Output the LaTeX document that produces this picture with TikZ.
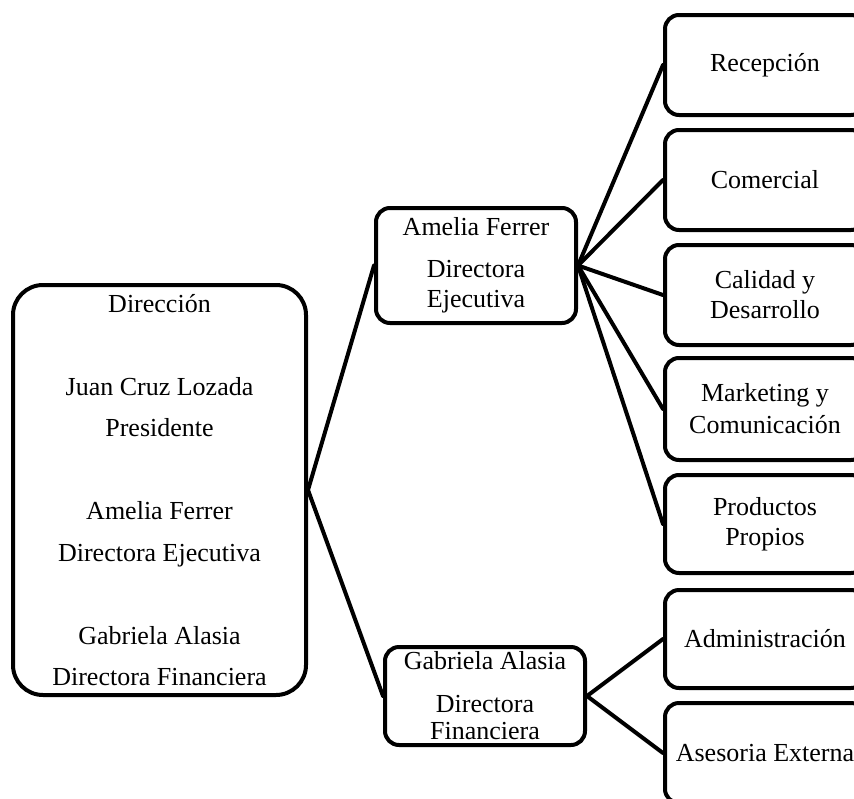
\documentclass[tikz,border=0pt]{standalone}
\usepackage{fontspec}
\setmainfont{Liberation Serif}
\begin{document}
\begin{tikzpicture}[x=1pt,y=-1pt,
  box/.style={draw=black, line width=4pt, fill=white, inner sep=0pt, align=center,
    rounded corners=14pt, font=\fontsize{26}{30}\selectfont},
  conn/.style={draw=black, line width=4pt, line cap=round}]
\clip (0,0) rectangle (854,798);
\fill[white] (0,0) rectangle (854,798);

% left box
\node[box, rounded corners=30pt, minimum width=293pt, minimum height=410pt,
  font=\fontsize{26}{41.5}\selectfont] (dir) at (159.5,490)
  {Dirección\\[41.5pt]Juan Cruz Lozada\\Presidente\\[41.5pt]Amelia Ferrer\\Directora Ejecutiva\\[41.5pt]Gabriela Alasia\\Directora Financiera};

% middle boxes
\node[box, minimum width=200pt, minimum height=115pt] (ame) at (476,265.5)
  {Amelia Ferrer\\[12pt]Directora\\Ejecutiva};
\node[box, minimum width=200pt, minimum height=98pt,
  font=\fontsize{26}{27}\selectfont] (gab) at (485,696)
  {Gabriela Alasia\\[16pt]Directora\\Financiera};

% right boxes
\node[box, minimum width=200pt, minimum height=100pt] (rec) at (765,65) {Recepción};
\node[box, minimum width=200pt, minimum height=100pt] (com) at (765,180) {Comercial};
\node[box, minimum width=200pt, minimum height=100pt] (cal) at (765,295) {Calidad y\\Desarrollo};
\node[box, minimum width=200pt, minimum height=102pt, font=\fontsize{26}{32}\selectfont] (mkt) at (765,409) {Marketing y\\Comunicación};
\node[box, minimum width=200pt, minimum height=98pt] (pro) at (765,524) {Productos\\Propios};
\node[box, minimum width=200pt, minimum height=98pt] (adm) at (765,639) {Administración};
\node[box, minimum width=200pt, minimum height=100pt] (ase) at (765,753) {Asesoria Externa};

% connectors
\draw[conn] (dir.east) -- (ame.west);
\draw[conn] (dir.east) -- (gab.west);
\foreach \t in {rec,com,cal,mkt,pro}
  \draw[conn] (ame.east) -- (\t.west);
\foreach \t in {adm,ase}
  \draw[conn] (gab.east) -- (\t.west);
\end{tikzpicture}
\end{document}
